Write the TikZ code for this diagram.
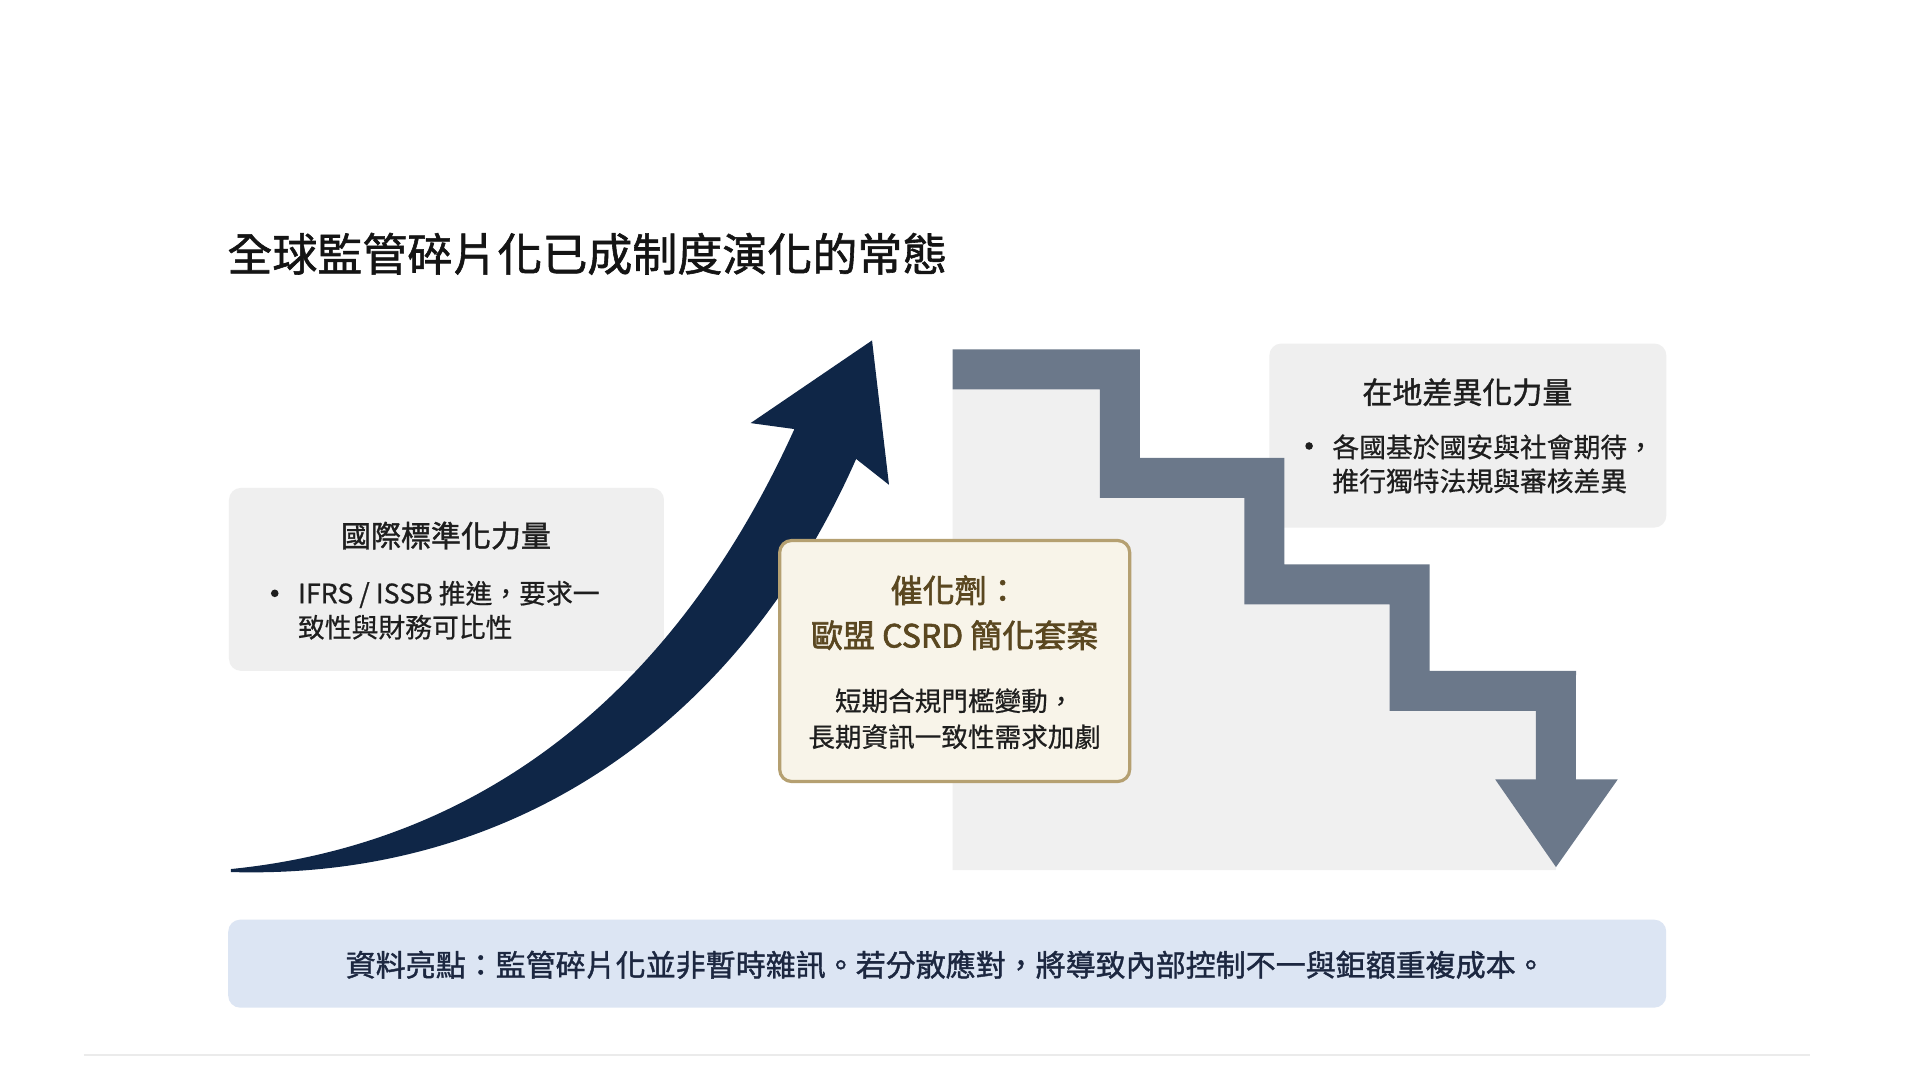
\documentclass[tikz,border=0pt]{standalone}
\usepackage{fontspec}
\setmainfont{Noto Sans CJK TC}
\newfontfamily\medfont{Noto Sans CJK TC}[FakeBold=1.3]
\newfontfamily\strongfont{Noto Sans CJK TC}[FakeBold=2.0]
\newfontfamily\semifont{Noto Sans CJK TC}[FakeBold=0.6]
\definecolor{navy}{HTML}{0F2647}
\definecolor{slate}{HTML}{6B788A}
\definecolor{stairbg}{HTML}{F0F0F0}
\definecolor{boxgray}{HTML}{EFEFEF}
\definecolor{barblue}{HTML}{DCE5F3}
\definecolor{cream}{HTML}{F8F4E9}
\definecolor{gold}{HTML}{B5A071}
\definecolor{brown}{HTML}{5A4720}
\definecolor{ink}{HTML}{1E1E1E}
\definecolor{barink}{HTML}{1C2740}
\definecolor{faint}{HTML}{EBEBEB}
\tikzset{
  graybox/.style={fill=boxgray, draw=none, rounded corners=6pt, inner sep=0pt},
  catbox/.style={fill=cream, draw=gold, line width=1.6pt, rounded corners=6pt, inner sep=0pt},
  barbox/.style={fill=barblue, draw=none, rounded corners=6pt, inner sep=0pt},
  boxtitle/.style={font=\medfont\fontsize{15}{18}\selectfont, text=ink, inner sep=0pt},
  bullettext/.style={font=\semifont\fontsize{13.4}{17}\selectfont, text=ink, align=left, inner sep=0pt, anchor=west},
  bulletdot/.style={circle, fill=ink, draw=none, minimum size=3.8pt, inner sep=0pt},
  stairline/.style={draw=slate, line width=20pt, line join=miter, line cap=butt},
}
\begin{document}
\begin{tikzpicture}[x=0.5pt,y=-0.5pt]
\useasboundingbox (0,0) rectangle (1920,1080);
\fill[white] (0,0) rectangle (1920,1080);
\begin{scope}[scale=0.9955]
% title
\node[anchor=west, inner sep=0pt, font=\medfont\fontsize{22.5}{27}\selectfont, text=black!92] (title) at (228,255) {全球監管碎片化已成制度演化的常態};

% gray area under stairs
\fill[stairbg] (957,391) -- (1125,391) -- (1125,480) -- (1270,480) -- (1270,587) -- (1416,587) -- (1416,694) -- (1563,694) -- (1563,874) -- (957,874) -- cycle;

% side boxes
\node[graybox, minimum width=217.5pt, minimum height=91.5pt] (lbox) at (448.5,582) {};
\node[graybox, minimum width=198.5pt, minimum height=92pt] (rbox) at (1474.5,437.5) {};

% rising arrow
\coordinate (astart) at (232,873);
\coordinate (atip) at (876,342);
\fill[navy] (astart) .. controls (480,848) and (676,700) .. (798,431) -- (754,425) -- (atip) -- (893,487) -- (860,461) .. controls (744,724) and (520,884) .. (232,876) -- cycle;

% descending stairs
\coordinate (sstart) at (957,371);
\coordinate (send) at (1563,785);
\draw[stairline] (sstart) -- (1125,371) -- (1125,480) -- (1270,480) -- (1270,587) -- (1416,587) -- (1416,694) -- (1563,694) -- (send);
\fill[slate] (1502,783) -- (1625,783) -- (1563,871) -- cycle;

% catalyst box
\node[catbox, minimum width=175pt, minimum height=120.5pt] (cbox) at (959,664) {};

% bottom bar
\node[barbox, minimum width=719pt, minimum height=44pt] (bar) at (951.5,968) {};

% texts
\node[boxtitle] (ltitle) at (448,538) {國際標準化力量};
\node[bulletdot] (ldot) at (276,596) {};
\node[bullettext] (ltext) at (299,613) {IFRS / ISSB 推進，要求一\\致性與財務可比性};

\node[boxtitle] (rtitle) at (1474,394) {在地差異化力量};
\node[bulletdot] (rdot) at (1315,448) {};
\node[bullettext] (rtext) at (1338,466) {各國基於國安與社會期待，\\推行獨特法規與審核差異};

\node[inner sep=0pt, align=center, text=brown, font=\strongfont\fontsize{16}{22.5}\selectfont] (ctitle) at (959,615.5) {催化劑：\\歐盟 CSRD 簡化套案};
\node[inner sep=0pt, align=center, text=ink, font=\semifont\fontsize{13.3}{18}\selectfont] (ctext) at (959,722) {短期合規門檻變動，\\長期資訊一致性需求加劇};

\node[inner sep=0pt, text=barink, font=\medfont\fontsize{15}{18}\selectfont] (bartext) at (950,969) {資料亮點：監管碎片化並非暫時雜訊。若分散應對，將導致內部控制不一與鉅額重複成本。};

% faint footer rule
\coordinate (fl) at (84,1060);
\coordinate (fr) at (1818,1060);
\draw[faint, line width=0.8pt] (fl) -- (fr);
\end{scope}
\end{tikzpicture}
\end{document}
